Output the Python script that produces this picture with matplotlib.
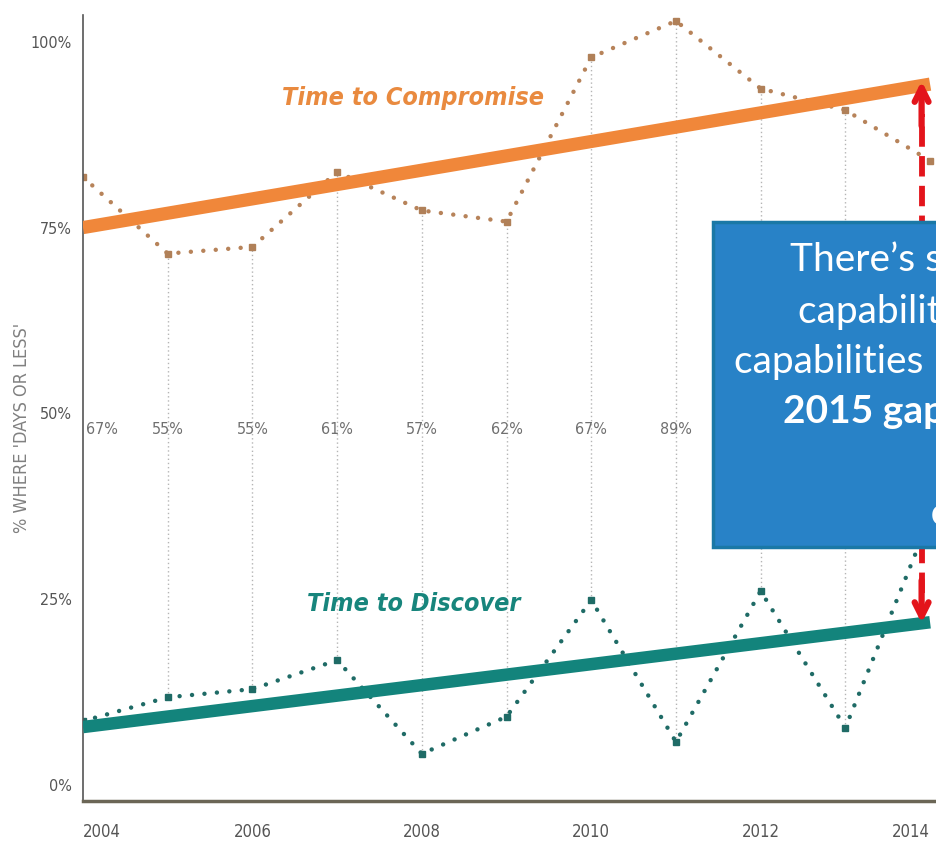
import numpy as np
import matplotlib.pyplot as plt
from matplotlib.patches import Rectangle

# ----------------------------------------------------------------------
# Data
# ----------------------------------------------------------------------

years = [2004, 2005, 2006, 2007, 2008, 2009, 2010, 2011, 2012, 2013, 2014]
compromise = [81.8, 71.5, 72.4, 82.5, 77.3, 75.8, 97.9, 102.8, 93.7, 90.8, 84.0]
discover = [8.6, 11.8, 12.9, 16.8, 4.2, 9.2, 24.9, 5.8, 26.1, 7.7, 36.0]

trend_years = [2004, 2014]
compromise_trend = [75.0, 94.3]
discover_trend = [7.8, 21.9]

gap_years = [2004, 2005, 2006, 2007, 2008, 2009, 2010, 2011]
gap_labels = ['67%', '55%', '55%', '61%', '57%', '62%', '67%', '89%']

yticks = [0, 25, 50, 75, 100]
ytick_labels = ['0%', '25%', '50%', '75%', '100%']
xticks = [2004, 2006, 2008, 2010, 2012, 2014]

box_lines = ['There\u2019s still a gap',
             'capabilities and',
             'capabilities \u2013 the',
             '2015 gap is',
             '',
             'compromise']

# ----------------------------------------------------------------------
# Figure
# ----------------------------------------------------------------------

W, H = 936, 846
fig = plt.figure(figsize=(W / 100, H / 100), dpi=100)
fig.patch.set_facecolor('white')

def fx(x):
    return x / W

def fy(y):
    return (H - y) / H

small = dict(family='DejaVu Sans', fontstretch='condensed')

ax = fig.add_axes([fx(83), fy(801), fx(936) - fx(83), fy(15) - fy(801)])
ax.set_xlim(2004, 2014.07)
ax.set_ylim(-2.15, 103.6)

for s in ['top', 'right']:
    ax.spines[s].set_visible(False)
ax.spines['left'].set_color('#555555')
ax.spines['left'].set_linewidth(1.2)
ax.spines['bottom'].set_color('#6b6656')
ax.spines['bottom'].set_linewidth(2.5)

ax.set_yticks(yticks)
ax.set_yticklabels(ytick_labels, fontsize=11.5, color='#555555', **small)
ax.set_xticks(xticks)
xl = ax.set_xticklabels([str(x) for x in xticks], fontsize=12,
                        color='#555555', **small)
xl[0].set_ha('left')
xl[-1].set_ha('right')
ax.tick_params(axis='both', length=0)
ax.tick_params(axis='y', pad=8)
ax.tick_params(axis='x', pad=16)

# vertical dotted connectors between the two series
ax.vlines(years[1:-1], discover[1:-1], compromise[1:-1], color='#b5b5b5',
          linestyles=(0, (1, 2)), lw=1.0, zorder=1)

# dotted yearly series
ax.plot(years, compromise, color='#b7835a', lw=3.2,
        linestyle=(0, (0.01, 2.8)), dash_capstyle='round', zorder=2)
ax.plot(years, compromise, 's', color='#b08058', ms=4, zorder=2)
ax.plot(years, discover, color='#1f6b66', lw=3.2,
        linestyle=(0, (0.01, 2.8)), dash_capstyle='round', zorder=2)
ax.plot(years, discover, 's', color='#1f6b66', ms=4, zorder=2)

# trend lines
ax.plot(trend_years, compromise_trend, color='#f0873a', lw=9.5,
        solid_capstyle='butt', zorder=3)
ax.plot(trend_years, discover_trend, color='#13847c', lw=9.0,
        solid_capstyle='butt', zorder=3)

# series labels
ax.text(2007.9, 92.5, 'Time to Compromise', color='#e98a3f',
        fontsize=18, fontweight='bold', style='italic',
        ha='center', va='center', **small)
ax.text(2007.9, 24.3, 'Time to Discover', color='#17857c',
        fontsize=18, fontweight='bold', style='italic',
        ha='center', va='center', **small)

# gap percentages row
for yr, lab in zip(gap_years, gap_labels):
    if yr == 2004:
        ax.text(yr + 0.04, 47.8, lab, ha='left', va='center', fontsize=11.5,
                color='#707070', **small)
    else:
        ax.text(yr, 47.8, lab, ha='center', va='center', fontsize=11.5,
                color='#707070', **small)

# red dashed double arrow for the 2014 gap
ax_x = 2013.9
ax.plot([ax_x, ax_x], [discover_trend[-1] + 4, compromise_trend[-1] - 4],
        color='#e3141b', lw=4.2, linestyle=(0, (3.5, 1.6)), zorder=4)
ax.annotate('', xy=(ax_x, compromise_trend[-1] + 0.8),
            xytext=(ax_x, compromise_trend[-1] - 6),
            arrowprops=dict(arrowstyle='->,head_length=1.0,head_width=0.5',
                            color='#e3141b', lw=4.5), zorder=4)
ax.annotate('', xy=(ax_x, discover_trend[-1] - 0.5),
            xytext=(ax_x, discover_trend[-1] + 6),
            arrowprops=dict(arrowstyle='->,head_length=1.0,head_width=0.5',
                            color='#e3141b', lw=4.5), zorder=4)

# y axis title
fig.text(fx(22), fy(428), "% WHERE 'DAYS OR LESS'", rotation=90,
         ha='center', va='center', fontsize=13, color='#808080', **small)

# blue call-out box, running off the right edge
fig.patches.append(Rectangle((fx(713), fy(547)), fx(960) - fx(713),
                             fy(222) - fy(547), transform=fig.transFigure,
                             facecolor='#2882c7', edgecolor='#1a78a6', lw=2.5,
                             zorder=10))

starts = [790, 798, 734, 783, 940, 931]
baselines = [271, 323, 373, 423, 474, 525]
for i, line in enumerate(box_lines):
    fw = 'bold' if i in (3, 5) else 'normal'
    fig.text(fx(starts[i]), fy(baselines[i]), line, ha='left', va='baseline',
             fontsize=28, color='white', family=['Lato', 'DejaVu Sans'],
             fontweight=fw, zorder=11)

fig.savefig('out.png', dpi=100)
